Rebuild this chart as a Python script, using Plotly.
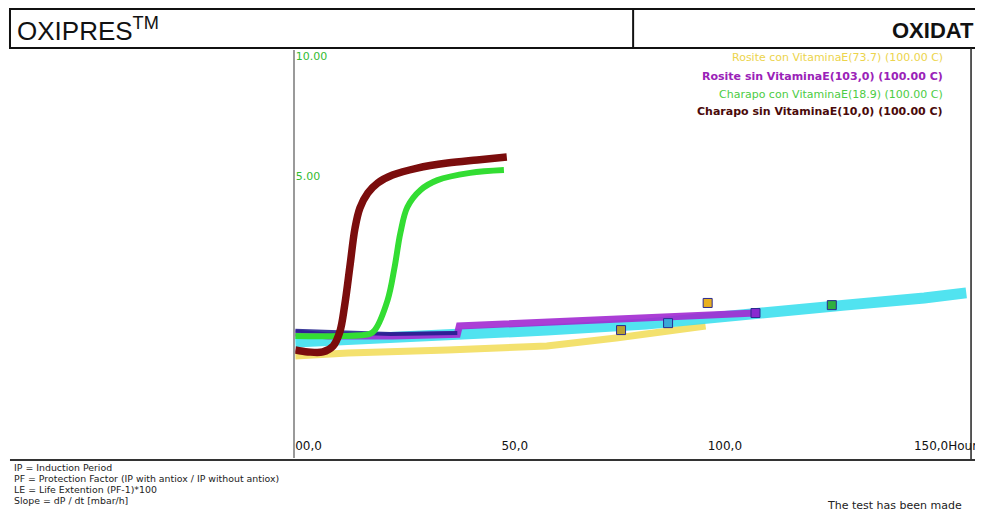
import plotly.graph_objects as go

# page body has an 8px margin, so the figure is 8px smaller and shifted
OFF = 8
W, H = 983 - OFF, 513 - OFF

# ---- data (hours, pressure units) ----
charapo_sin_x = [0, 3.1, 6.7, 9.2, 10.8, 12.0, 13.3, 14.5, 15.7, 17.6, 20.0, 23.6, 29.6, 36.9, 44.1, 51.3]
charapo_sin_y = [-2.25, -2.33, -2.33, -2.08, -1.5, -0.38, 1.29, 2.83, 3.67, 4.29, 4.71, 5.04, 5.33, 5.54, 5.67, 5.79]

charapo_con_x = [0, 10.4, 18.1, 19.3, 22.4, 24.1, 25.5, 27.2, 30.4, 34.5, 42.4, 50.6]
charapo_con_y = [-1.67, -1.67, -1.58, -1.42, -0.17, 1.21, 2.63, 3.71, 4.42, 4.83, 5.13, 5.25]

rosite_sin_x = [0, 8.0, 23.6, 39.3, 39.8, 61.0, 85.1, 104.3, 111.6]
rosite_sin_y = [-1.54, -1.67, -1.67, -1.60, -1.25, -1.08, -0.92, -0.79, -0.71]

rosite_con_x = [0, 12.8, 36.9, 61.0, 77.8, 92.3, 99.5]
rosite_con_y = [-2.5, -2.38, -2.25, -2.08, -1.75, -1.42, -1.25]

cyan_x = [0, 12.8, 36.9, 61.0, 85.1, 109.2, 133.3, 152.5, 162.7]
cyan_y = [-1.92, -1.83, -1.63, -1.42, -1.17, -0.83, -0.38, -0.08, 0.13]

navy_x = [0, 7.0, 23.1, 39.3]
navy_y = [-1.45, -1.50, -1.58, -1.54]

marker_x = [79.0, 90.4, 100.0, 111.6, 130.1]
marker_y = [-1.42, -1.13, -0.29, -0.71, -0.38]
marker_c = ["#b8a030", "#3aa8d8", "#e8b020", "#8a2ad0", "#30b040"]

x_ticks = [0, 50, 100, 150]
x_ticklabels = ["00,0", "50,0", "100,0", "150,0Hour"]
y_ticks = [5, 10]
y_ticklabels = ["5.00", "10.00"]

legend_labels = [
    "Rosite con VitaminaE(73.7) (100.00 C)",
    "Rosite sin VitaminaE(103,0) (100.00 C)",
    "Charapo con VitaminaE(18.9) (100.00 C)",
    "Charapo sin VitaminaE(10,0) (100.00 C)",
]
legend_colors = ["#ecd44c", "#9a22b8", "#4ccc44", "#4a0a0a"]
legend_bold = [False, True, False, True]

footer_lines = [
    "IP = Induction Period",
    "PF = Protection Factor (IP with antiox / IP without antiox)",
    "LE = Life Extention (PF-1)*100",
    "Slope = dP / dt [mbar/h]",
]

FONT = "Liberation Sans, Arial, sans-serif"
WIDE = "DejaVu Sans, Verdana, sans-serif"

def px(x):
    return (x - OFF) / W

def py(y):
    return 1 - (y - OFF) / H

fig = go.Figure()

fig.add_trace(go.Scatter(x=rosite_con_x, y=rosite_con_y, mode="lines",
                         line=dict(color="#f2dc55", width=7), opacity=0.85, showlegend=False))
fig.add_trace(go.Scatter(x=cyan_x, y=cyan_y, mode="lines",
                         line=dict(color="#3fe0ef", width=11), opacity=0.9, showlegend=False))
fig.add_trace(go.Scatter(x=rosite_sin_x, y=rosite_sin_y, mode="lines",
                         line=dict(color="#a22ad2", width=7), opacity=0.9, showlegend=False))
fig.add_trace(go.Scatter(x=navy_x, y=navy_y, mode="lines",
                         line=dict(color="#1c1c8a", width=4), opacity=0.85, showlegend=False))
fig.add_trace(go.Scatter(x=charapo_con_x, y=charapo_con_y, mode="lines", line_shape="spline",
                         line=dict(color="#33dd33", width=6), showlegend=False))
fig.add_trace(go.Scatter(x=charapo_sin_x, y=charapo_sin_y, mode="lines", line_shape="spline",
                         line=dict(color="#7b0d0d", width=7.5), showlegend=False))
fig.add_trace(go.Scatter(x=marker_x, y=marker_y, mode="markers",
                         marker=dict(symbol="square", size=9, color=marker_c,
                                     line=dict(color="#2a2a90", width=1)),
                         showlegend=False))

x0, x1 = 297, 977
ytop, ybot = 50, 458
fig.update_layout(
    width=W, height=H, autosize=False,
    margin=dict(l=0, r=0, t=0, b=0),
    paper_bgcolor="white", plot_bgcolor="white",
    font=dict(family=FONT, color="black"),
    xaxis=dict(domain=[px(x0), px(x1)], range=[0, (x1 - x0) / 4.15],
               tickvals=x_ticks, ticktext=x_ticklabels, ticks="",
               ticklabelposition="inside right", ticklabeloverflow="allow",
               showgrid=False, zeroline=False, showline=False,
               tickfont=dict(size=12, color="#111", family=WIDE)),
    yaxis=dict(domain=[py(ybot), py(ytop)],
               range=[(296 - ybot) / 24, (296 - ytop) / 24],
               tickvals=y_ticks, ticktext=y_ticklabels, ticks="",
               ticklabelposition="inside", ticklabeloverflow="allow",
               showgrid=False, zeroline=False,
               showline=True, linecolor="#9a9a9a", linewidth=1.5,
               tickfont=dict(size=11, color="#33bb33", family=WIDE)),
)

shapes = []
# header box
shapes.append(dict(type="rect", xref="paper", yref="paper",
                   x0=px(10), x1=px(1000), y0=py(48), y1=py(9),
                   line=dict(color="#111", width=2)))
shapes.append(dict(type="line", xref="paper", yref="paper",
                   x0=px(637), x1=px(637), y0=py(48), y1=py(9),
                   line=dict(color="#111", width=2)))
# right border of chart
shapes.append(dict(type="line", xref="paper", yref="paper",
                   x0=px(977), x1=px(977), y0=py(460), y1=py(48),
                   line=dict(color="#222", width=1.5)))
# bottom line
shapes.append(dict(type="line", xref="paper", yref="paper",
                   x0=px(10), x1=px(990), y0=py(460), y1=py(460),
                   line=dict(color="#333", width=2)))
fig.update_layout(shapes=shapes)

ann = []
ann.append(dict(x=px(15), y=py(29), xref="paper", yref="paper", xanchor="left", yanchor="middle",
                text="OXIPRES<sup>TM</sup>", showarrow=False,
                font=dict(size=26, color="#111", family=FONT)))
ann.append(dict(x=px(982), y=py(30), xref="paper", yref="paper", xanchor="right", yanchor="middle",
                text="<b>OXIDAT</b>", showarrow=False,
                font=dict(size=22, color="#111", family=FONT)))
for i, (t, c, b) in enumerate(zip(legend_labels, legend_colors, legend_bold)):
    ann.append(dict(x=px(951), y=py(58 + 18 * i), xref="paper", yref="paper",
                    xanchor="right", yanchor="middle", text=t,
                    showarrow=False,
                    font=dict(size=11, color=c, family=WIDE, weight="bold" if b else "normal")))
for i, t in enumerate(footer_lines):
    ann.append(dict(x=px(13), y=py(467 + 11 * i), xref="paper", yref="paper",
                    xanchor="left", yanchor="middle", text=t, showarrow=False,
                    borderpad=0,
                    font=dict(size=9.4, color="#222", family=WIDE)))
ann.append(dict(x=px(830), y=py(505), xref="paper", yref="paper", xanchor="left",
                yanchor="middle", text="The test has been made",
                showarrow=False, font=dict(size=11, color="#222", family=WIDE)))
fig.update_layout(annotations=ann)

fig.write_html("out.html")
